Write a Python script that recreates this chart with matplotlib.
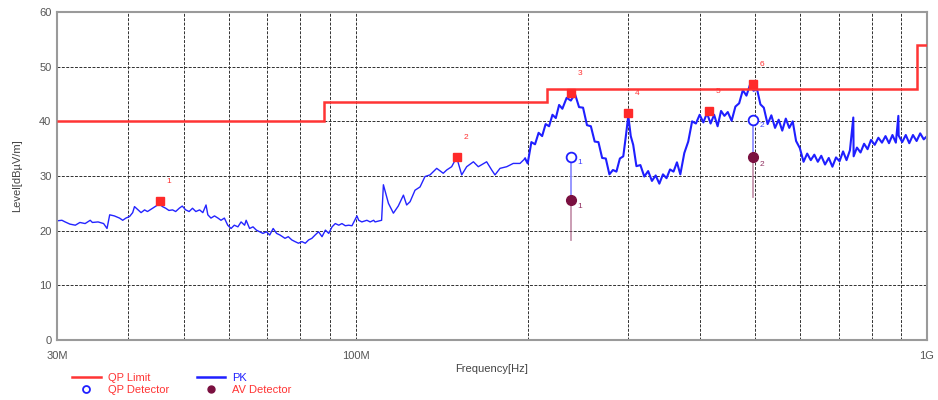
import numpy as np
import matplotlib.pyplot as plt

plt.rcParams['font.family'] = ['Liberation Sans', 'DejaVu Sans']

# PK trace (MHz, dBuV/m), 30M - 200M part
pk_freq_low = [30.0, 30.6, 31.0, 31.6, 32.3, 32.9, 33.6, 34.3, 34.6, 35.4, 36.2, 36.7, 37.1, 37.8,
               38.6, 39.1, 39.6, 40.2, 40.7, 41.0, 41.6, 42.1, 42.7, 43.2, 44.1, 44.7, 45.3, 45.9,
               46.5, 47.1, 47.8, 48.4, 49.1, 49.7, 50.4, 51.1, 51.8, 52.5, 53.3, 54.0, 54.7, 55.1,
               55.8, 56.6, 57.4, 58.1, 58.9, 59.7, 60.5, 61.3, 62.2, 63.0, 63.9, 64.3, 65.2, 66.1,
               67.0, 67.9, 68.8, 69.8, 70.7, 71.7, 72.7, 73.7, 75.2, 76.2, 77.3, 78.3, 79.4, 80.5,
               81.6, 82.7, 83.8, 84.9, 86.1, 87.3, 88.5, 89.7, 90.9, 92.1, 93.4, 94.6, 95.9, 97.2,
               98.5, 100.5, 101.2, 102.5, 104.6, 106.0, 107.5,
               108.1, 111.0, 111.8, 114.1, 116.4, 118.7, 121.2, 122.8, 124.5, 127.0, 129.6, 132.2,
               134.9, 138.6, 142.3, 144.3, 147.2, 150.2, 153.3, 156.4, 160.7, 163.9, 169.5, 173.0,
               175.3, 178.9, 183.8, 188.7, 193.9, 197.9]
pk_level_low = [21.8, 21.9, 21.6, 21.2, 21.0, 21.5, 21.3, 21.9, 21.5, 21.6, 21.3, 20.4, 22.9, 22.7,
                22.3, 21.9, 22.3, 22.6, 23.3, 24.4, 23.8, 23.3, 23.8, 23.5, 24.1, 24.5, 24.9, 24.4,
                24.1, 23.7, 23.8, 23.5, 24.1, 24.5, 23.8, 23.5, 24.1, 23.5, 23.8, 23.3, 24.7, 22.9,
                22.3, 22.7, 22.3, 21.9, 22.3, 21.0, 20.4, 21.0, 20.7, 21.6, 21.0, 21.9, 20.4, 20.7,
                20.1, 19.8, 19.5, 19.8, 19.2, 20.4, 19.5, 19.2, 18.6, 18.9, 18.3, 18.0, 17.7, 18.0,
                17.7, 18.3, 18.6, 19.2, 19.8, 18.9, 20.1, 19.5, 20.7, 21.3, 21.0, 21.3, 20.9, 21.0,
                20.9, 22.7, 21.9, 21.6, 21.9, 21.6, 21.9,
                21.6, 21.9, 28.4, 25.0, 23.2, 24.5, 26.5, 24.7, 25.3, 27.4, 28.0, 29.9,
                30.2, 31.4, 30.5, 31.1, 31.7, 33.4, 30.2, 31.7, 32.6, 31.7, 32.6, 31.1,
                30.2, 31.4, 31.7, 32.3, 32.3, 33.2]

# 200M - 1G part, where the trace is a dense noise band
pk_freq_high = [197.9, 200, 203, 206, 209, 212, 215, 218, 221, 224, 227, 230, 234, 238, 242,
                246, 250, 254, 258, 262, 266, 270, 274, 278, 282, 286, 290, 294, 297, 300,
                303, 306, 310, 315, 320, 325, 330, 335, 340, 345, 350, 355, 360, 365, 370,
                376, 382, 388, 394, 400, 406, 412, 418, 424, 430, 436, 442, 448, 455, 462,
                469, 476, 483, 490, 497, 504, 511, 518, 526, 534, 542, 550, 558, 566, 574,
                582, 590, 599, 608, 617, 626, 635, 644, 653, 663, 673, 683, 693, 703, 713,
                723, 733, 743, 744, 754, 765, 776, 787, 798, 810, 822, 834, 846, 858, 870,
                882, 891, 892, 905, 918, 931, 945, 959, 973, 987, 1000]
pk_level_high = [33.2, 32.3, 36.2, 35.8, 37.9, 37.3, 39.5, 39.1, 41.2, 40.6, 43.0, 42.3, 44.3, 43.8, 45.0,
                 42.6, 42.5, 39.3, 39.1, 36.3, 36.2, 33.3, 33.2, 30.3, 31.1, 30.8, 33.2, 33.6, 37.2, 41.0,
                 37.3, 35.7, 31.8, 32.0, 29.9, 30.9, 29.1, 30.1, 28.6, 30.3, 29.6, 31.2, 30.8, 32.5, 30.3,
                 34.2, 36.3, 40.0, 39.6, 41.2, 39.8, 41.5, 39.6, 41.2, 39.1, 41.9, 41.0, 41.7, 40.1, 42.7,
                 43.3, 45.7, 44.7, 46.7, 45.6, 45.9, 43.1, 42.5, 39.5, 41.1, 38.8, 40.3, 38.3, 40.5, 38.8,
                 40.0, 36.4, 35.1, 32.6, 34.1, 32.9, 33.9, 32.6, 33.7, 32.1, 33.3, 31.7, 33.4, 32.7, 34.5,
                 32.9, 34.7, 40.7, 33.6, 35.2, 34.3, 35.9, 34.9, 36.6, 35.7, 37.0, 36.1, 37.3, 36.0, 37.5,
                 36.1, 41.0, 37.4, 36.2, 37.5, 36.0, 37.5, 36.4, 37.8, 36.7, 37.3]

# QP limit
limit_edges = [30, 88, 216, 960, 1000]
limit_vals = [40, 43.5, 46, 54]

# peak markers
mark_freq = [45.4, 150.4, 238, 300, 416, 496.6]
mark_level = [25.5, 33.4, 45.2, 41.6, 41.9, 46.9]
mark_ids = ['1', '2', '3', '4', '5', '6']

# final measurements
det_freq = [238, 496.6]
qp_level = [33.5, 40.2]
av_level = [25.6, 33.4]
av_stem_low = [18.3, 26.2]
det_ids = ['1', '2']

fig = plt.figure(figsize=(9.38, 4.0), dpi=100)
ax = fig.add_axes([57/938, 60/400, 870/938, 328/400])

ax.stairs(limit_vals, limit_edges, baseline=None, color='#ff3434', lw=1.8, zorder=3)
ax.plot(pk_freq_low, pk_level_low, color='#2424ff', lw=1.0, zorder=2)
ax.plot(pk_freq_high, pk_level_high, color='#1f1fff', lw=1.5, zorder=2)

for f, q, a, lo in zip(det_freq, qp_level, av_level, av_stem_low):
    ax.plot([f, f], [a, q], color='#8f8fff', lw=1.3, zorder=4)
    ax.plot([f, f], [lo, a], color='#a05078', lw=1.3, alpha=0.6, zorder=4)

ax.plot(mark_freq, mark_level, 's', color='#ff2a2a', ms=6, zorder=5)
for f, l, t in zip(mark_freq, mark_level, mark_ids):
    ax.annotate(t, (f, l), xytext=(6.5, 14), textcoords='offset points',
                color='#ff3030', fontsize=6, ha='center', va='center')

ax.plot(det_freq, qp_level, 'o', mfc='white', mec='#2020ff', mew=1.3, ms=7, zorder=6)
ax.plot(det_freq, av_level, 'o', color='#7a1040', ms=7, zorder=6)
for f, q, a, t in zip(det_freq, qp_level, av_level, det_ids):
    ax.annotate(t, (f, q), xytext=(6.5, -4), textcoords='offset points',
                color='#4040ff', fontsize=6, ha='center', va='center')
    ax.annotate(t, (f, a), xytext=(6.5, -5), textcoords='offset points',
                color='#903060', fontsize=6, ha='center', va='center')

ax.set_xscale('log')
ax.set_xlim(30, 1000)
ax.set_ylim(0, 60)
ax.set_xticks([30, 100, 1000])
ax.set_xticklabels(['30M', '100M', '1G'])
ax.set_xticks([40, 50, 60, 70, 80, 90, 200, 300, 400, 500, 600, 700, 800, 900], minor=True)
ax.xaxis.set_minor_formatter(plt.NullFormatter())
ax.set_yticks(range(0, 70, 10))
ax.tick_params(which='both', length=0, labelsize=8, labelcolor='#555555')
ax.tick_params(axis='x', pad=8)
ax.tick_params(axis='y', pad=4)
ax.grid(which='both', color='#303030', ls=(0, (3, 1.5)), lw=0.7)
for s in ax.spines.values():
    s.set_color('#9a9a9a')
    s.set_linewidth(1.5)

ax.set_xlabel('Frequency[Hz]', fontsize=8, color='#444444', labelpad=2)
ax.set_ylabel('Level[dB\u00b5V/m]', fontsize=8, color='#444444', labelpad=12)

h1, = ax.plot([], [], color='#ff3434', lw=1.8, label='QP Limit')
h2, = ax.plot([], [], color='#1f1fff', lw=1.8, label='PK')
h3, = ax.plot([], [], 'o', mfc='white', mec='#2020ff', mew=1.3, ms=5, label='QP Detector')
h4, = ax.plot([], [], 'o', color='#7a1040', ms=5, label='AV Detector')
fig.legend(handles=[h1, h3, h2, h4], ncol=2, loc='upper left',
           bbox_to_anchor=(62/938, 1 - 363/400), frameon=False, fontsize=8,
           labelcolor=['#ff3434', '#ff3434', '#2020ff', '#ff3434'],
           handlelength=2.6, columnspacing=2.5, labelspacing=0.2, handletextpad=0.6)

fig.savefig('out.png', dpi=100)
